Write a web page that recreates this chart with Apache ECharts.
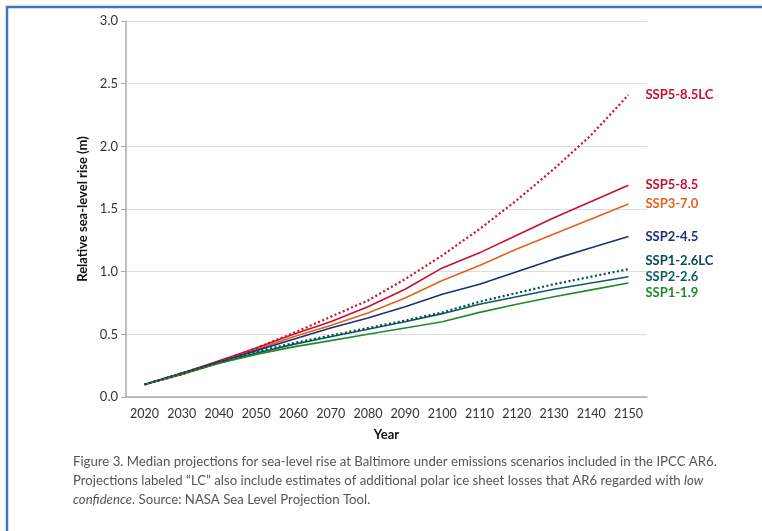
<!DOCTYPE html>
<html><head><meta charset="utf-8">
<script src="https://cdn.jsdelivr.net/npm/echarts@6/dist/echarts.min.js"></script>
<style>html,body{margin:0;padding:0;background:#fff}#c{width:762px;height:531px}</style>
</head><body><div id="c"></div>
<script>
var years = ['2020','2030','2040','2050','2060','2070','2080','2090','2100','2110','2120','2130','2140','2150'];
var ssp585LC = [0.10,0.18,0.28,0.39,0.51,0.64,0.77,0.94,1.13,1.34,1.57,1.82,2.09,2.41];
var ssp585   = [0.10,0.19,0.29,0.39,0.50,0.60,0.72,0.86,1.03,1.15,1.29,1.43,1.56,1.69];
var ssp370   = [0.10,0.19,0.28,0.38,0.48,0.57,0.67,0.79,0.93,1.05,1.18,1.30,1.42,1.54];
var ssp245   = [0.10,0.19,0.28,0.37,0.46,0.55,0.63,0.72,0.82,0.90,1.00,1.10,1.19,1.28];
var ssp126LC = [0.10,0.19,0.28,0.36,0.43,0.49,0.55,0.61,0.675,0.76,0.83,0.90,0.96,1.02];
var ssp226   = [0.10,0.19,0.27,0.35,0.42,0.48,0.54,0.60,0.665,0.74,0.80,0.86,0.91,0.96];
var ssp119   = [0.10,0.18,0.27,0.34,0.40,0.45,0.50,0.55,0.60,0.675,0.74,0.80,0.855,0.91];
var yTicks = [0,0.5,1.0,1.5,2.0,2.5,3.0];

var font = 'Lato, "Noto Sans", sans-serif';
function mk(name, data, color, dotted, off) {
  return {
    name: name, type: 'line', data: data, symbol: 'none', smooth: false,
    lineStyle: {color: color, width: dotted ? 2.2 : 1.6, type: dotted ? [2, 2.5] : 'solid'},
    itemStyle: {color: color},
    z: dotted ? 3 : 2,
    endLabel: {show: true, formatter: name, color: color, fontWeight: 'bold', fontSize: 13,
      fontFamily: font, distance: 17, offset: [0, off || 0]},
    emphasis: {disabled: true}, animation: false
  };
}
var chart = echarts.init(document.getElementById('c'), null, {renderer: 'canvas'});
chart.setOption({
  animation: false,
  grid: {left: 126, right: 115, top: 21, bottom: 134},
  xAxis: {type: 'category', data: years, boundaryGap: true,
    name: 'Year', nameLocation: 'middle', nameGap: 31,
    nameTextStyle: {fontWeight: 'bold', fontSize: 13, color: '#111', fontFamily: font},
    axisLine: {lineStyle: {color: '#aaa', width: 1.5}},
    axisTick: {alignWithLabel: true, interval: 0, length: 5, lineStyle: {color: '#aaa'}},
    axisLabel: {color: '#333', fontSize: 12.5, fontFamily: font, margin: 10, interval: 0},
    splitLine: {show: false}},
  yAxis: {type: 'value', min: 0, max: 3, interval: 0.5,
    name: 'Relative sea-level rise (m)', nameLocation: 'middle', nameGap: 34,
    nameTextStyle: {fontWeight: 'bold', fontSize: 13, color: '#111', fontFamily: font},
    axisLine: {show: true, lineStyle: {color: '#aaa', width: 1.5}},
    axisTick: {show: true, length: 5, lineStyle: {color: '#aaa'}},
    axisLabel: {color: '#333', fontSize: 13, fontFamily: font, margin: 8,
      formatter: function (v) { return v.toFixed(1); }},
    splitLine: {lineStyle: {color: '#dddddd', width: 1.2}}},
  title: {
    left: 73, top: 452, padding: 0, itemGap: 0,
    text: 'Figure 3. Median projections for sea-level rise at Baltimore under emissions scenarios included in the IPCC AR6.\nProjections labeled \u201cLC\u201d also include estimates of additional polar ice sheet losses that AR6 regarded with {i|low}\n{i|confidence}. Source: NASA Sea Level Projection Tool.',
    textStyle: {fontSize: 13.2, fontWeight: 'normal', color: '#555', fontFamily: font, lineHeight: 19,
      rich: {i: {fontStyle: 'italic', fontSize: 13.2, color: '#555', fontFamily: font, lineHeight: 19}}}
  },
  graphic: [{type: 'rect', shape: {x: 7, y: 7, width: 800, height: 600},
    style: {fill: 'none', stroke: '#4472C4', lineWidth: 2.5}, silent: true}],
  series: [
    mk('SSP5-8.5LC', ssp585LC, '#C8102E', true, 0),
    mk('SSP5-8.5', ssp585, '#C8102E', false, 0),
    mk('SSP3-7.0', ssp370, '#E2631E', false, 0),
    mk('SSP2-4.5', ssp245, '#1E2F78', false, 0),
    mk('SSP1-2.6LC', ssp126LC, '#0B4B4E', true, -8),
    mk('SSP2-2.6', ssp226, '#0F5C5C', false, 0),
    mk('SSP1-1.9', ssp119, '#1F8A2E', false, 10)
  ]
});
</script></body></html>
